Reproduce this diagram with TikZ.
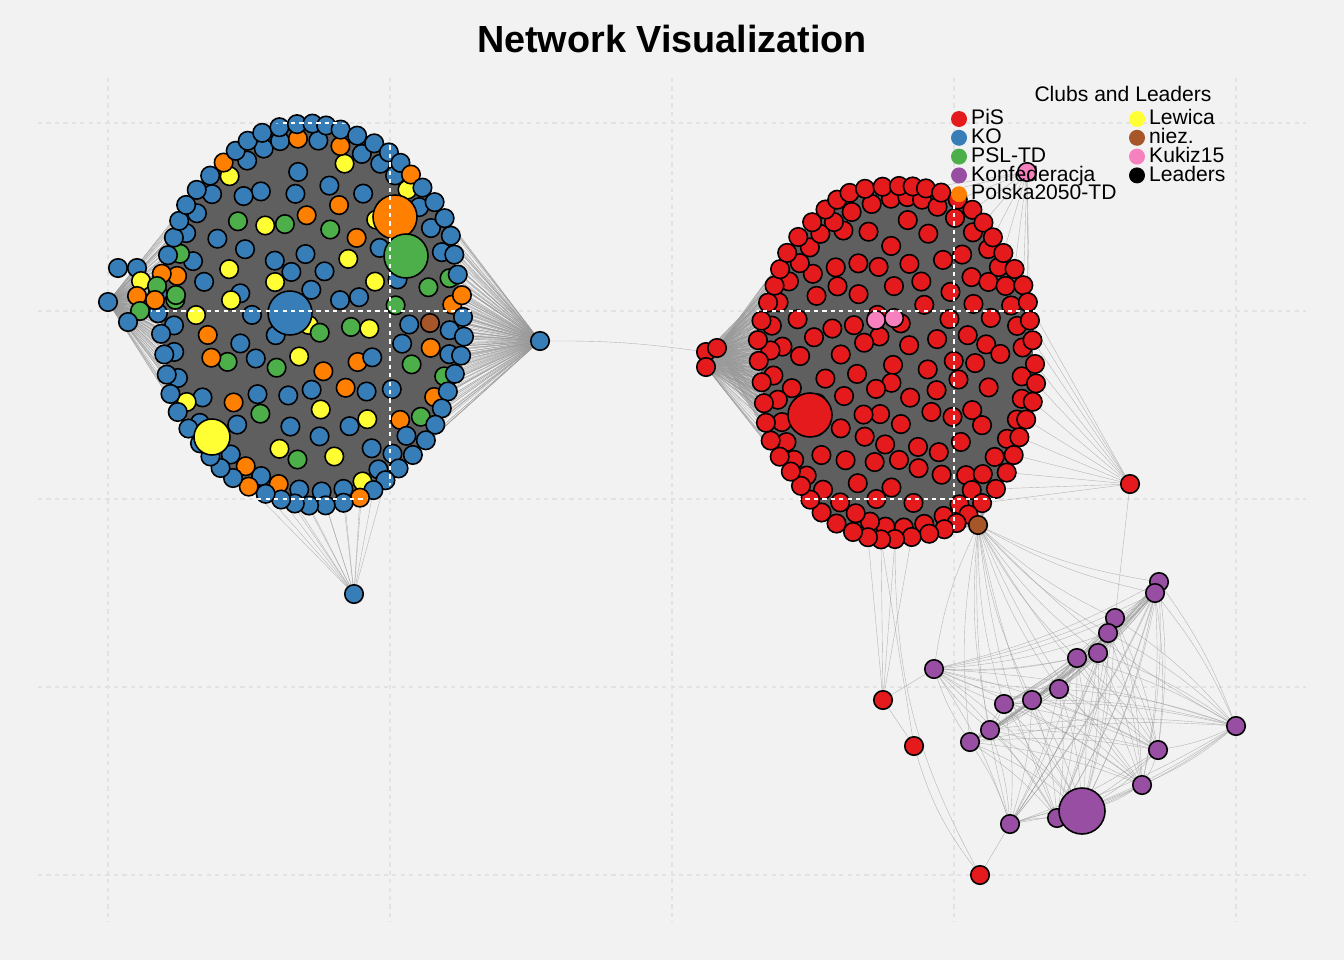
\documentclass[tikz,border=0pt]{standalone}
\usepackage{fontspec}
\setmainfont{Liberation Sans}
\usetikzlibrary{positioning}

\definecolor{bgc}{HTML}{F2F2F2}
\definecolor{gridc}{HTML}{E2E2E2}
\definecolor{blobc}{HTML}{5F5F5F}
\definecolor{linkc}{HTML}{9A9A9A}
\definecolor{pis}{HTML}{E41A1C}
\definecolor{ko}{HTML}{377EB8}
\definecolor{psl}{HTML}{4DAF4A}
\definecolor{konf}{HTML}{984EA3}
\definecolor{pl}{HTML}{FF7F00}
\definecolor{lew}{HTML}{FFFF33}
\definecolor{niez}{HTML}{A65628}
\definecolor{kuk}{HTML}{F781BF}

\pgfdeclarelayer{back}
\pgfdeclarelayer{edges}
\pgfdeclarelayer{blob}
\pgfdeclarelayer{over}
\pgfsetlayers{back,edges,blob,main,over}

% colour mixes of the left club
\newcommand\lmix[1]{\ifcase#1 ko\or lew\or ko\or psl\or pl\or ko\or lew\or ko\or psl\or ko\or ko\or pl\or lew\or ko\or psl\or ko\or pl\or ko\or lew\or ko\fi}
\newcommand\amix[1]{\ifcase#1 ko\or ko\or pl\or ko\or lew\or ko\or psl\or ko\or ko\or pl\or ko\or ko\or psl\or ko\or lew\or ko\or pl\or ko\or ko\or ko\fi}
\newcommand\bmix[1]{\ifcase#1 ko\or ko\or ko\or ko\or pl\or ko\or ko\or ko\or ko\or ko\or ko\or ko\or ko\or pl\or ko\or ko\or ko\or ko\or ko\or ko\fi}

\begin{document}
\begin{tikzpicture}[x=0.02cm,y=-0.02cm,
    mp/.style={circle,draw=black,line width=0.9pt,minimum size=0.37cm,inner sep=0pt,fill=#1},
    leader/.style={mp=#1,minimum size=0.88cm},
    legdot/.style={circle,fill=#1,minimum size=0.32cm,inner sep=0pt},
    legtext/.style={font=\fontsize{12}{14}\selectfont,inner sep=0pt,text height=8.8pt,text depth=2.4pt},
    link/.style={draw=linkc,line width=0.22pt,opacity=0.7},
    gridline/.style={draw=gridc,line width=0.6pt,dash pattern=on 2.4pt off 2.4pt}]
\useasboundingbox (0,0) rectangle (1344,960);

\begin{pgfonlayer}{back}
\fill[bgc] (0,0) rectangle (1344,960);
\foreach \gx in {108,390,672,954,1236}
  \draw[gridline] (\gx,78) -- (\gx,922);
\foreach \gy in {123,311,499,687,875}
  \draw[gridline] (38,\gy) -- (1306,\gy);
\end{pgfonlayer}

\begin{pgfonlayer}{blob}
\fill[blobc] (311,315) ellipse [x radius=150, y radius=188];
\fill[blobc] (897,362) ellipse [x radius=136, y radius=176];
\end{pgfonlayer}

\node[font=\fontsize{21.5}{26}\selectfont\bfseries] (title) at (672,39) {Network Visualization};

%% left club
\foreach \i in {1,...,80}{
  \pgfmathsetmacro\myr{0.82*sqrt((\i-0.5)/80)}
  \pgfmathsetmacro\mya{mod(\i*137.508,360)}
  \pgfmathtruncatemacro\ci{mod(\i,20)}
  \edef\cc{\lmix{\ci}}
  \node[mp=\cc] (LI\i) at ({311+152*\myr*cos(\mya)+5*sin(\i*97)},{315+190*\myr*sin(\mya)+5*cos(\i*71)}) {};
}
\foreach \j in {0,...,43}{
  \pgfmathtruncatemacro\ci{mod(\j*3,20)}
  \edef\cc{\amix{\ci}}
  \node[mp=\cc] (LA\j) at ({311+139*cos(8.1818*\j+4)+3*sin(\j*53)},{315+175*sin(8.1818*\j+4)+3*cos(\j*41)}) {};
}
\foreach \j in {0,...,59}{
  \pgfmathtruncatemacro\ci{mod(\j*7,20)}
  \edef\cc{\bmix{\ci}}
  \node[mp=\cc] (LB\j) at ({311+152*cos(6*\j)+2*sin(\j*67)},{315+190*sin(6*\j)+2*cos(\j*29)}) {};
}
\foreach \x/\y/\c [count=\k] in {118/268/ko,137/268/ko,141/281/lew,157/286/psl,137/296/pl,155/300/pl,176/295/psl,140/311/psl,128/322/ko}
  \node[mp=\c] (lp\k) at (\x,\y) {};
\node[mp=niez] (lnz) at (430,323) {};
\node[leader=ko] (lko) at (290,313) {};
\node[leader=pl] (lpl) at (395,217) {};
\node[leader=psl] (lpsl) at (406,256) {};
\node[leader=lew,minimum size=0.72cm] (llew) at (212,437) {};
\node[mp=ko] (lw) at (108,302) {};
\node[mp=ko] (le) at (540,341) {};
\node[mp=ko] (ls) at (354,594) {};

%% right club
\foreach \i in {1,...,80}{
  \pgfmathsetmacro\myr{0.82*sqrt((\i-0.5)/80)}
  \pgfmathsetmacro\mya{mod(\i*137.508+40,360)}
  \node[mp=pis] (RI\i) at ({897+138*\myr*cos(\mya)+5*sin(\i*83)},{362+178*\myr*sin(\mya)+5*cos(\i*61)}) {};
}
\foreach \j in {0,...,43}
  \node[mp=pis] (RA\j) at ({897+125*cos(8.1818*\j+4)+3*sin(\j*59)},{362+163*sin(8.1818*\j+4)+3*cos(\j*37)}) {};
\foreach \j in {0,...,55}
  \node[mp=pis] (RB\j) at ({897+138*cos(6.42857*\j)+2*sin(\j*71)},{362+178*sin(6.42857*\j)+2*cos(\j*43)}) {};
\node[mp=kuk] (rk1) at (876,320) {};
\node[mp=kuk] (rk2) at (894,318) {};
\node[leader=pis] (rpis) at (810,415) {};
\node[mp=pis] (rw1) at (706,352) {};
\node[mp=pis] (rw2) at (717,348) {};
\node[mp=pis] (rw3) at (706,367) {};
\node[mp=kuk] (rn) at (1027,172) {};
\node[mp=pis] (re) at (1130,484) {};
\node[mp=niez] (rb) at (978,525) {};
\node[mp=pis] (r1) at (883,700) {};
\node[mp=pis] (r2) at (914,746) {};
\node[mp=pis] (r3) at (980,875) {};

%% Konfederacja
\foreach \x/\y [count=\k] in {1159/582,1155/593,1115/618,1108/633,1098/653,1077/658,1059/689,1032/700,1004/704,990/730,970/742,934/669,1236/726,1158/750,1142/785,1010/824,1057/818}
  \node[mp=konf] (K\k) at (\x,\y) {};
\node[leader=konf,minimum size=0.92cm] (K18) at (1082,811) {};

%% connectors
\begin{pgfonlayer}{edges}
\foreach \i in {1,...,80}{
  \draw[link] (lw) -- (LI\i);
  \draw[link] (le) -- (LI\i);
  \draw[link] (rw1) -- (RI\i);
  \draw[link] (rw3) -- (RI\i);
}
\foreach \j in {0,...,43}{
  \draw[link] (lw) -- (LA\j);
  \draw[link] (le) -- (LA\j);
  \draw[link] (rw2) -- (RA\j);
  \draw[link] (rw1) -- (RA\j);
}
\foreach \j in {0,...,59}{
  \draw[link] (lw) -- (LB\j);
  \draw[link] (le) -- (LB\j);
}
\foreach \j in {10,...,19}
  \draw[link] (ls) -- (LB\j);
\foreach \j in {8,...,12}
  \draw[link] (ls) -- (LA\j);
\foreach \j in {0,...,55}{
  \draw[link] (rw2) -- (RB\j);
  \draw[link] (rw3) -- (RB\j);
}
\foreach \j in {0,...,17}{
  \draw[link] (rb) -- (RB\j);
  \draw[link] (rb) -- (RA\j);
}
\foreach \j in {44,...,54}
  \draw[link] (rn) -- (RB\j);
\foreach \j in {53,54,55,0,1,2,3,4,5,6,7,8}
  \draw[link] (re) -- (RB\j);
\foreach \j in {13,14,15,16}
  \draw[link] (r1) -- (RB\j);
\draw[link] (le) to[bend left=4] (rw1);
\draw[link] (r2) -- (RB15);
\draw[link] (r1) -- (K12);
\draw[link] (r1) -- (r2);
\draw[link] (r3) to[bend left=10] (r2);
\draw[link] (r3) to[bend left=14] (RB14);
\draw[link] (r3) -- (K16);
\draw[link] (re) -- (K3);
\foreach \a in {1,...,18}
  \draw[link] (rb) to[bend right=8] (K\a);
\foreach \a in {1,...,17}{
  \pgfmathtruncatemacro\s{\a+1}
  \foreach \b in {\s,...,18}
    \draw[link] (K\a) to[bend left=7] (K\b);
}
\end{pgfonlayer}

%% grid over the clubs
\begin{pgfonlayer}{over}
\begin{scope}
\clip (311,315) ellipse [x radius=160, y radius=196] (897,362) ellipse [x radius=146, y radius=186];
\foreach \gx in {390,954}
  \draw[white,line width=0.8pt,dash pattern=on 2.4pt off 2.4pt] (\gx,78) -- (\gx,922);
\foreach \gy in {123,311,499}
  \draw[white,line width=0.8pt,dash pattern=on 2.4pt off 2.4pt] (38,\gy) -- (1306,\gy);
\end{scope}

%% legend
\node[legtext] (legtitle) at (1123,96) {Clubs and Leaders};
\foreach \lab/\col [count=\k] in {PiS/pis,KO/ko,PSL-TD/psl,Konfederacja/konf,Polska2050-TD/pl}{
  \node[legdot=\col] (da\k) at (959,{100.2+18.8*\k}) {};
  \node[legtext,right=2pt of da\k] (ta\k) {\lab};
}
\foreach \lab/\col [count=\k] in {Lewica/lew,niez./niez,Kukiz15/kuk,Leaders/black}{
  \node[legdot=\col] (db\k) at (1137,{100.2+18.8*\k}) {};
  \node[legtext,right=2pt of db\k] (tb\k) {\lab};
}
\end{pgfonlayer}
\end{tikzpicture}
\end{document}
